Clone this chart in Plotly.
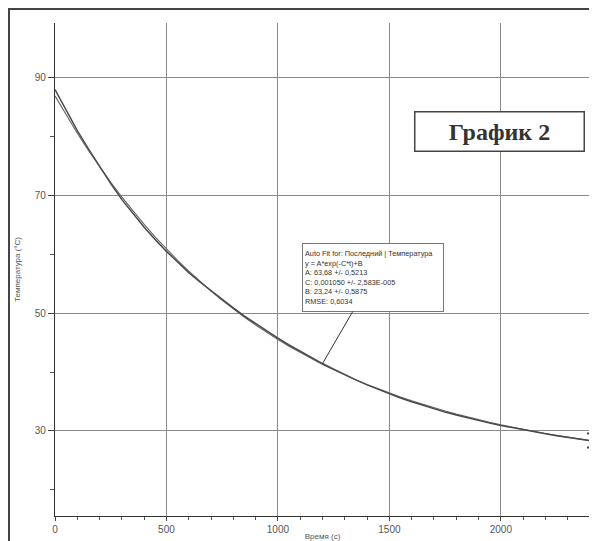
import plotly.graph_objects as go

# ---- data ----
time_s = [0, 50, 100, 150, 200, 250, 300, 350, 400, 450, 500, 550, 600, 650, 700,
          750, 800, 850, 900, 950, 1000, 1050, 1100, 1150, 1200, 1250, 1300, 1350,
          1400, 1450, 1500, 1550, 1600, 1650, 1700, 1750, 1800, 1850, 1900, 1950,
          2000, 2050, 2100, 2150, 2200, 2250, 2300, 2350, 2400]
temp_measured = [88.0, 84.6, 81.0, 77.9, 74.9, 72.0, 69.3, 66.9, 64.6, 62.5, 60.5,
                 58.7, 56.9, 55.3, 53.8, 52.3, 50.9, 49.5, 48.2, 46.95, 45.75, 44.6,
                 43.5, 42.45, 41.45, 40.5, 39.55, 38.67, 37.83, 37.05, 36.3, 35.6,
                 34.95, 34.33, 33.75, 33.2, 32.7, 32.2, 31.75, 31.33, 30.93, 30.55,
                 30.2, 29.85, 29.52, 29.2, 28.9, 28.62, 28.35]
temp_fit = [86.92, 83.66, 80.57, 77.64, 74.86, 72.22, 69.71, 67.34, 65.08, 62.94,
            60.91, 58.98, 57.16, 55.42, 53.77, 52.21, 50.73, 49.32, 47.99, 46.72,
            45.52, 44.38, 43.31, 42.28, 41.30, 40.38, 39.50, 38.67, 37.88, 37.13,
            36.42, 35.75, 35.11, 34.50, 33.93, 33.38, 32.86, 32.37, 31.90, 31.46,
            31.04, 30.64, 30.26, 29.90, 29.56, 29.24, 28.93, 28.64, 28.37]

fit_lines = ["Auto Fit for: Последний | Температура",
             "y = A*exp(-C*t)+B",
             "A: 63,68 +/- 0,5213",
             "C: 0,001050 +/- 2,583E-005",
             "B: 23,24 +/- 0,5875",
             "RMSE: 0,6034"]
chart_label = "График 2"
x_title = "Время (с)"
y_title = "Температура (°C)"

fig = go.Figure()
fig.add_trace(go.Scatter(x=time_s, y=temp_fit, mode="lines",
                         line=dict(color="#666666", width=1.1), showlegend=False))
fig.add_trace(go.Scatter(x=time_s, y=temp_measured, mode="lines",
                         line=dict(color="#4a4a4a", width=1.5), showlegend=False))
# end-of-range bracket
fig.add_trace(go.Scatter(x=[time_s[-1]], y=[temp_fit[-1]], mode="markers",
                         marker=dict(symbol="line-ns", size=14, color="#444444",
                                     line=dict(color="#444444", width=2)),
                         error_y=dict(type="constant", value=1.2, color="#444444",
                                      thickness=2, width=3),
                         cliponaxis=False, showlegend=False))

tick_font = dict(family="Liberation Sans, Arial, sans-serif", size=10, color="#555555")

fig.update_xaxes(range=[0, 2400], tick0=0, dtick=500, showgrid=True,
                 gridcolor="#8a8a8a", gridwidth=1, zeroline=False, automargin=False,
                 showline=True, linecolor="#333333", linewidth=1.3,
                 ticks="outside", ticklen=4, tickcolor="#444444",
                 minor=dict(dtick=100, ticks="outside", ticklen=3, tickcolor="#555555",
                            showgrid=False),
                 tickfont=tick_font,
                 title=dict(text=x_title, standoff=0,
                            font=dict(family="Liberation Sans, Arial", size=8, color="#555555")))
fig.update_yaxes(range=[15.55, 99.3], tick0=10, dtick=20, showgrid=True,
                 gridcolor="#8a8a8a", gridwidth=1, zeroline=False, automargin=False,
                 showline=True, linecolor="#333333", linewidth=1.3,
                 ticks="outside", ticklen=6, tickcolor="#444444",
                 minor=dict(dtick=10, ticks="outside", ticklen=4, tickcolor="#555555",
                            showgrid=False),
                 tickfont=tick_font,
                 title=dict(text=y_title, standoff=12,
                            font=dict(family="Liberation Sans, Arial", size=8, color="#555555")))

# outer frame of the scanned figure
fig.add_shape(type="rect", xref="paper", yref="paper",
              x0=-0.086, x1=1.4, y0=-0.4, y1=1.0284,
              line=dict(color="#444444", width=2), fillcolor="rgba(0,0,0,0)", layer="below")

# fit info box with leader line to the curve
idx = time_s.index(1200)
fig.add_annotation(x=time_s[idx], y=temp_measured[idx], xref="x", yref="y",
                   text="<br>".join(fit_lines), showarrow=True, arrowhead=0,
                   arrowwidth=1, arrowcolor="#333333", ax=50, ay=-86,
                   align="left", width=136, height=63,
                   font=dict(family="Liberation Sans, Arial", size=7.3, color="#333333"),
                   bgcolor="white", bordercolor="#777777", borderwidth=1, borderpad=2)
# small dark tab on the info box
fig.add_shape(type="rect", xref="paper", yref="paper",
              x0=0.4617, x1=0.4822, y0=0.5416, y1=0.5538,
              line=dict(color="#555555", width=0), fillcolor="#666666")

# chart label
fig.add_annotation(xref="paper", yref="paper", x=0.83, y=0.779, showarrow=False,
                   xanchor="center", yanchor="middle",
                   text="<b>" + chart_label + "</b>", width=164, height=34,
                   font=dict(family="Liberation Serif, DejaVu Serif, serif", size=24,
                             color="#333333"),
                   bgcolor="white", bordercolor="#444444", borderwidth=1.5, borderpad=2)

fig.update_layout(width=589, height=533,
                  margin=dict(l=47, r=7, t=15, b=25),
                  paper_bgcolor="white", plot_bgcolor="white")

fig.write_html("out.html")
